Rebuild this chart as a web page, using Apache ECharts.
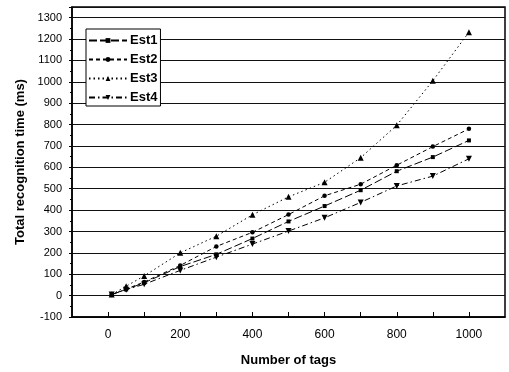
<!DOCTYPE html>
<html>
<head>
<meta charset="utf-8">
<script src="https://cdn.jsdelivr.net/npm/echarts@6/dist/echarts.min.js"></script>
<style>
  html, body { margin: 0; padding: 0; background: #fff; }
  #chart { width: 509px; height: 372px; }
</style>
</head>
<body>
<div id="chart"></div>
<script>
const tags = [10, 50, 100, 200, 300, 400, 500, 600, 700, 800, 900, 1000];
const est1 = [5, 29, 60, 136, 193, 267, 347, 419, 493, 582, 648, 726];
const est2 = [5, 30, 64, 141, 230, 296, 379, 467, 521, 610, 697, 780];
const est3 = [5, 44, 92, 200, 278, 378, 462, 530, 645, 797, 1005, 1232];
const est4 = [5, 28, 53, 118, 180, 241, 302, 364, 436, 513, 559, 640];

const font = "'Liberation Sans', Arial, sans-serif";

function pairs(values) {
  return values.map((v, i) => [tags[i], v]);
}

function line(name, values, dash, symbol, size, rotate) {
  return {
    name,
    type: "line",
    data: pairs(values),
    symbol,
    symbolSize: size,
    symbolRotate: rotate || 0,
    lineStyle: { color: "#000", width: 1, type: dash },
    itemStyle: { color: "#000" },
  };
}

const chart = echarts.init(document.getElementById("chart"), undefined, { renderer: "canvas" });
chart.setOption({
  animation: false,
  backgroundColor: "#fff",
  grid: { left: 72, right: 4, top: 7, bottom: 49, show: true, borderColor: "#000", borderWidth: 1.5 },
  legend: {
    orient: "vertical",
    left: 86,
    top: 29,
    padding: [5, 3, 2, 2],
    itemGap: 6,
    itemWidth: 38,
    itemHeight: 6,
    borderColor: "#000",
    borderWidth: 1,
    backgroundColor: "#fff",
    textStyle: { fontFamily: font, fontSize: 13, fontWeight: "bold", color: "#000", padding: [0, 0, 0, -2] },
    data: ["Est1", "Est2", "Est3", "Est4"],
  },
  xAxis: {
    type: "value",
    min: -100,
    max: 1100,
    interval: 100,
    name: "Number of tags",
    nameLocation: "middle",
    nameGap: 37,
    nameTextStyle: { fontFamily: font, fontSize: 13, fontWeight: "bold", color: "#000" },
    axisLine: { onZero: false, lineStyle: { color: "#000", width: 1.5 } },
    axisTick: { inside: true, length: 5, lineStyle: { color: "#000" } },
    axisLabel: {
      fontFamily: font, fontSize: 12, color: "#000", margin: 12,
      showMinLabel: false, showMaxLabel: false,
      formatter: (v) => (v % 200 === 0 ? String(v) : ""),
    },
    splitLine: { show: false },
  },
  yAxis: {
    type: "value",
    min: -100,
    max: 1350,
    interval: 100,
    name: "Total recognition time (ms)",
    nameLocation: "middle",
    nameGap: 45,
    nameTextStyle: { fontFamily: font, fontSize: 13, fontWeight: "bold", color: "#000" },
    axisLine: { onZero: false, lineStyle: { color: "#000", width: 1.5 } },
    axisTick: { length: 3, lineStyle: { color: "#000" } },
    minorTick: { show: true, splitNumber: 2, length: 2, lineStyle: { color: "#000" } },
    axisLabel: {
      fontFamily: font, fontSize: 11, color: "#000", margin: 10,
      showMaxLabel: false,
      formatter: (v) => String(v),
    },
    splitLine: { lineStyle: { color: "#111", width: 1 } },
  },
  series: [
    line("Est1", est1, [8, 3], "rect", 4),
    line("Est2", est2, [4, 3], "circle", 4.5),
    line("Est3", est3, [1.5, 3], "triangle", 6),
    line("Est4", est4, [6, 3, 1.5, 3], "triangle", 6, 180),
  ],
});
</script>
</body>
</html>
